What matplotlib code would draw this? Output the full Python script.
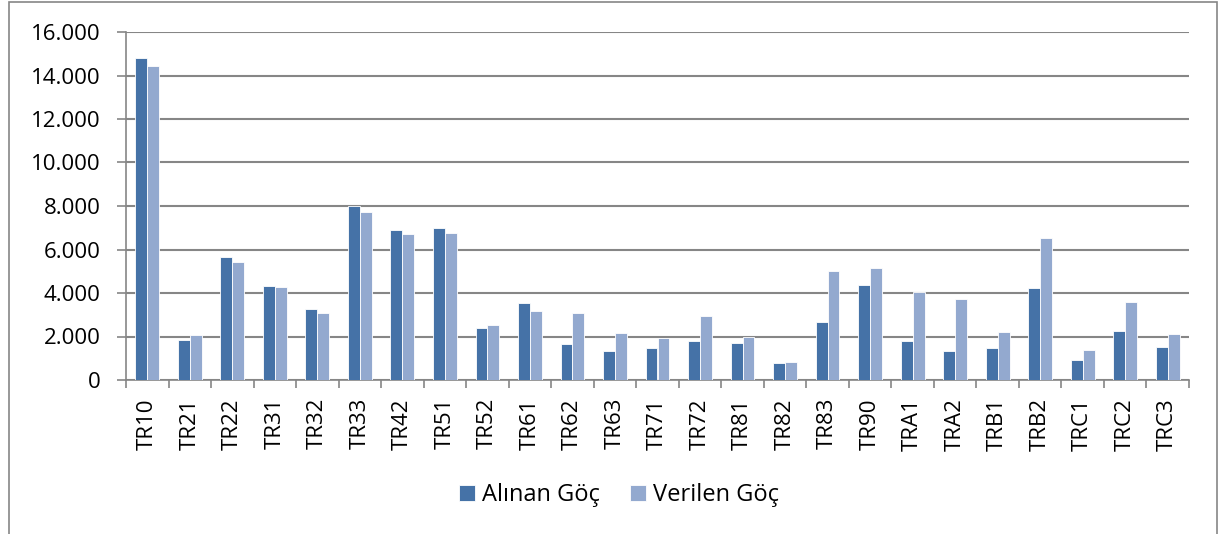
import matplotlib
matplotlib.use("Agg")
import matplotlib.pyplot as plt
import numpy as np
from matplotlib.patches import Rectangle
from matplotlib.ticker import FuncFormatter, MultipleLocator

categories = ["TR10", "TR21", "TR22", "TR31", "TR32", "TR33", "TR42", "TR51", "TR52",
              "TR61", "TR62", "TR63", "TR71", "TR72", "TR81", "TR82", "TR83", "TR90",
              "TRA1", "TRA2", "TRB1", "TRB2", "TRC1", "TRC2", "TRC3"]
alinan = [14790, 1840, 5650, 4330, 3250, 7990, 6890, 7000, 2390,
          3550, 1670, 1320, 1450, 1780, 1700, 770, 2680, 4390,
          1790, 1320, 1490, 4240, 900, 2270, 1520]
verilen = [14420, 2070, 5410, 4270, 3090, 7720, 6690, 6780, 2510,
           3150, 3060, 2140, 1910, 2920, 1990, 810, 5010, 5130,
           4030, 3710, 2200, 6520, 1380, 3570, 2100]
series_names = ["Alınan Göç", "Verilen Göç"]

plt.rcParams['font.family'] = ['Open Sans', 'DejaVu Sans']

fig = plt.figure(figsize=(12.19, 5.34), dpi=100)
ax = fig.add_axes([126/1219, 1 - 380/534, (1189 - 126)/1219, (380 - 32)/534])

x = np.arange(len(categories))
w = 0.28
c1 = "#4572A7"
c2 = "#93A9CF"
ax.bar(x - w/2, alinan, w, color=c1, edgecolor="white", linewidth=0.6, label=series_names[0], zorder=3)
ax.bar(x + w/2, verilen, w, color=c2, edgecolor="white", linewidth=0.6, label=series_names[1], zorder=3)

ax.set_xlim(-0.5, len(categories) - 0.5)
ax.set_ylim(0, 16000)
ax.yaxis.set_major_locator(MultipleLocator(2000))
ax.yaxis.set_major_formatter(FuncFormatter(lambda v, p: f"{int(v):,}".replace(",", ".")))
ax.grid(axis="y", color="#868686", linewidth=1.5, zorder=0)
ax.set_axisbelow(True)

for s in ["top", "right"]:
    ax.spines[s].set_visible(False)
for s in ["left", "bottom"]:
    ax.spines[s].set_color("#868686")
    ax.spines[s].set_linewidth(1.2)

ax.set_xticks(x)
ax.set_xticklabels(categories, rotation=90, fontsize=16)
ax.tick_params(axis="x", length=0, pad=13)
ax.set_xticks(np.arange(-0.5, len(categories), 1), minor=True)
ax.tick_params(axis="x", which="minor", length=5.8, color="#868686", width=1.2)
ax.tick_params(axis="y", length=6.5, color="#868686", width=1.2, labelsize=16, pad=12)

leg = ax.legend(loc="center", bbox_to_anchor=(619/1219, 1 - 495/534), bbox_transform=fig.transFigure,
                ncol=2, frameon=False, fontsize=17, handlelength=0.65, handleheight=0.65,
                handletextpad=0.3, columnspacing=1.3, borderpad=0, borderaxespad=0)

fig.patches.append(Rectangle((9/1219, -0.1), (1217 - 9)/1219, 1.1 - 2/534, transform=fig.transFigure,
                             fill=False, edgecolor="#868686", linewidth=1.2, clip_on=False))

fig.savefig("out.png", dpi=100)
